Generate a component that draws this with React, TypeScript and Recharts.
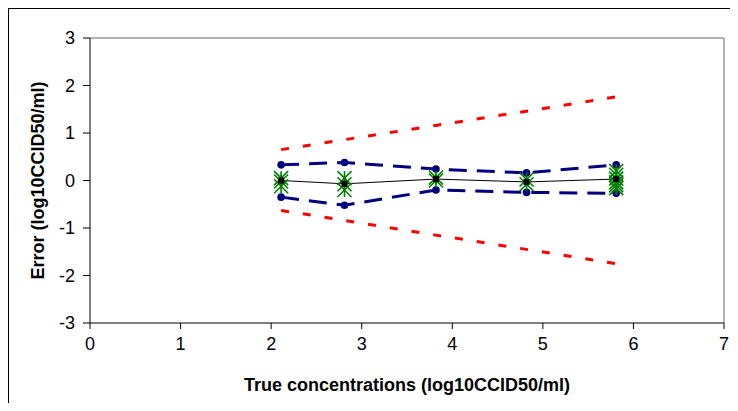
import {
  ComposedChart,
  Line,
  ReferenceLine,
  Scatter,
  XAxis,
  YAxis,
} from "recharts"

// true concentrations (log10CCID50/ml)
const X_VALUES = [2.11, 2.81, 3.82, 4.82, 5.81]
const MEAN_ERROR = [0.0, -0.07, 0.03, -0.03, 0.03]
const UPPER_BOUND = [0.33, 0.38, 0.24, 0.16, 0.33]
const LOWER_BOUND = [-0.35, -0.52, -0.2, -0.25, -0.27]
const UPPER_LIMIT = [0.65, 0.86, 1.16, 1.46, 1.76]
const LOWER_LIMIT = [-0.63, -0.84, -1.15, -1.45, -1.75]
// individual replicate errors at each concentration
const REPLICATES = [
  [0.05, -0.02, -0.12],
  [0.05, -0.08, -0.2],
  [0.06, 0.0],
  [0.02, -0.08],
  [0.2, 0.12, 0.04, -0.04, -0.1, -0.16],
]
const X_TICKS = [0, 1, 2, 3, 4, 5, 6, 7]
const Y_TICKS = [-3, -2, -1, 0, 1, 2, 3]

const FONT = "'Liberation Sans', Arial, sans-serif"

const lineData = X_VALUES.map((x, i) => ({
  x,
  mean: MEAN_ERROR[i],
  upper: UPPER_BOUND[i],
  lower: LOWER_BOUND[i],
  upLimit: UPPER_LIMIT[i],
  lowLimit: LOWER_LIMIT[i],
}))

const replicateData = X_VALUES.flatMap((x, i) =>
  REPLICATES[i].map((y) => ({ x, y }))
)

function Asterisk(props: any) {
  const { cx, cy } = props
  if (cx == null || cy == null) return null
  const w = 7
  const h = 7
  return (
    <g stroke="#008000" strokeWidth={1.6}>
      <line x1={cx} y1={cy - h} x2={cx} y2={cy + h} />
      <line x1={cx - w} y1={cy - h} x2={cx + w} y2={cy + h} />
      <line x1={cx - w} y1={cy + h} x2={cx + w} y2={cy - h} />
    </g>
  )
}

function SquareDot(props: any) {
  const { cx, cy, index } = props
  return <rect key={index} x={cx - 3} y={cy - 3} width={6} height={6} fill="#000" />
}

function CircleDot(props: any) {
  const { cx, cy, index } = props
  return <circle key={index} cx={cx} cy={cy} r={3.8} fill="#000080" />
}

const tickStyle = { fill: "#000", fontSize: 18, fontFamily: FONT }
const titleStyle = { fill: "#000", fontSize: 18, fontWeight: "bold", fontFamily: FONT }

export default function App() {
  return (
    <div
      style={{
        width: 729,
        height: 394,
        borderLeft: "1px solid #000",
        borderTop: "1px solid #000",
        background: "#fff",
        fontFamily: FONT,
      }}
    >
      <ComposedChart
        width={729}
        height={394}
        data={lineData}
        margin={{ top: 29, right: 14, bottom: 0, left: 21 }}
      >
        <XAxis
          type="number"
          dataKey="x"
          domain={[0, 7]}
          ticks={X_TICKS}
          interval={0}
          height={80}
          axisLine={{ stroke: "#000" }}
          tickLine={{ stroke: "#000" }}
          tickSize={6}
          tickMargin={8}
          tick={tickStyle}
          label={{
            value: "True concentrations (log10CCID50/ml)",
            position: "insideBottom",
            offset: 12,
            style: titleStyle,
          }}
        />
        <YAxis
          type="number"
          domain={[-3, 3]}
          ticks={Y_TICKS}
          interval={0}
          width={60}
          axisLine={{ stroke: "#000" }}
          tickLine={{ stroke: "#000" }}
          tickSize={7}
          tickMargin={8}
          tick={tickStyle}
          label={{
            value: "Error (log10CCID50/ml)",
            angle: -90,
            position: "insideLeft",
            offset: 8,
            style: { ...titleStyle, textAnchor: "middle" },
          }}
        />
        <ReferenceLine y={3} stroke="#999" strokeWidth={1.5} />
        <ReferenceLine x={7} stroke="#999" strokeWidth={1.5} />
        <Line
          dataKey="upLimit"
          stroke="#ff0000"
          strokeWidth={3}
          strokeDasharray="8 14"
          dot={false}
          isAnimationActive={false}
        />
        <Line
          dataKey="lowLimit"
          stroke="#ff0000"
          strokeWidth={3}
          strokeDasharray="8 14"
          dot={false}
          isAnimationActive={false}
        />
        <Line
          dataKey="upper"
          stroke="#000080"
          strokeWidth={3}
          strokeDasharray="18 10"
          dot={CircleDot}
          isAnimationActive={false}
        />
        <Line
          dataKey="lower"
          stroke="#000080"
          strokeWidth={3}
          strokeDasharray="18 10"
          dot={CircleDot}
          isAnimationActive={false}
        />
        <Scatter
          data={replicateData}
          dataKey="y"
          shape={Asterisk}
          isAnimationActive={false}
        />
        <Line
          dataKey="mean"
          stroke="#000"
          strokeWidth={1}
          dot={SquareDot}
          isAnimationActive={false}
        />
      </ComposedChart>
    </div>
  )
}
